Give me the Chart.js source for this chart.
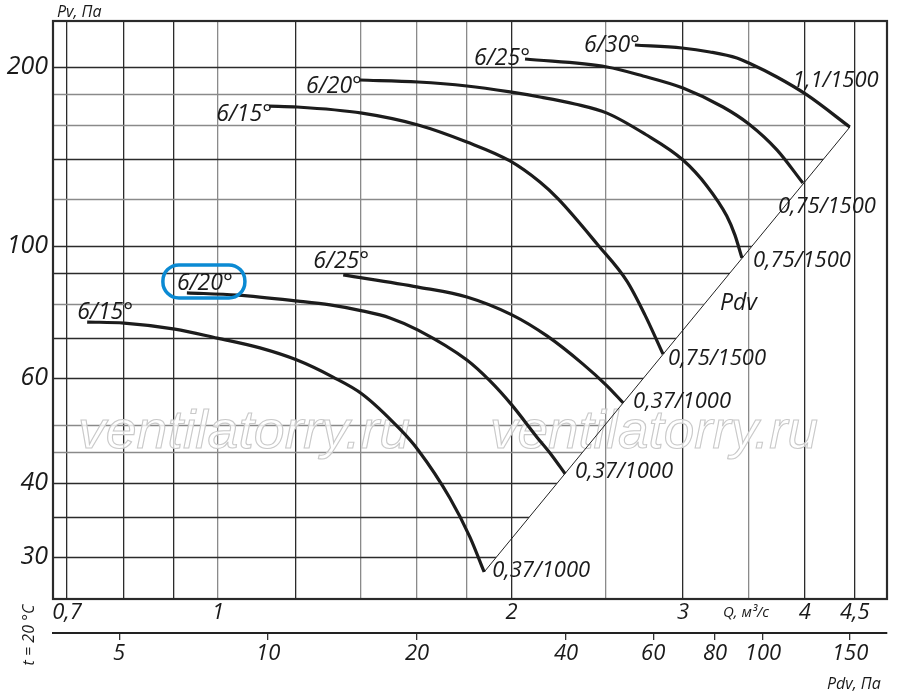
<!DOCTYPE html>
<html>
<head>
<meta charset="utf-8">
<script src="https://cdn.jsdelivr.net/npm/chart.js@4.4.1/dist/chart.umd.min.js"></script>
<style>
  html, body { margin: 0; padding: 0; background: #fff; }
  #wrap { width: 900px; height: 695px; }
</style>
</head>
<body>
<div id="wrap"><canvas id="chart" width="900" height="695"></canvas></div>
<script>
// axes
const qTicks = [0.7, 0.8, 0.9, 1, 1.2, 1.4, 1.6, 1.8, 2, 2.5, 3, 3.5, 4, 4.5];
const qLabels = [0.7, 1, 2, 3, 4, 4.5];
const pvTicks = [30, 35, 40, 45, 50, 60, 70, 80, 90, 100, 120, 140, 160, 180, 200];
const pvLabels = [30, 40, 60, 100, 200];
const pdvTicks = [5, 10, 20, 40, 60, 80, 100, 150];

// 1000 rpm curves (0,37 kW)
const low15Q = [0.734, 0.801, 0.903, 0.998, 1.104, 1.205, 1.312, 1.405, 1.537, 1.604, 1.729, 1.813, 1.875];
const low15Pv = [74.5, 74.2, 72.5, 70.0, 67.4, 64.3, 60.2, 56.4, 49.2, 45.4, 37.7, 32.4, 28.3];
const low20Q = [0.929, 1.046, 1.208, 1.303, 1.405, 1.501, 1.604, 1.800, 1.901, 2.002, 2.124, 2.201, 2.27];
const low20Pv = [83.4, 82.7, 80.8, 79.6, 77.8, 75.7, 72.2, 64.3, 59.3, 54.0, 47.7, 44.4, 41.4];
const low25Q = [1.344, 1.604, 1.800, 2.002, 2.175, 2.368, 2.506, 2.603];
const low25Pv = [89.4, 85.3, 82.1, 76.6, 70.6, 63.3, 58.2, 54.5];

// 1500 rpm curves
const up15Q = [1.128, 1.205, 1.405, 1.604, 1.800, 1.993, 2.139, 2.233, 2.453, 2.627, 2.741, 2.861];
const up15Pv = [171.9, 171.3, 167.3, 159.8, 149.6, 139.0, 128.1, 120.0, 100.4, 87.3, 76.6, 65.8];
const up20Q = [1.398, 1.604, 1.800, 1.993, 2.139, 2.323, 2.506, 2.741, 2.999, 3.173, 3.326, 3.390, 3.447];
const up20Pv = [190.2, 188.7, 185.8, 181.6, 178.1, 173.3, 167.3, 154.3, 139.5, 126.2, 112.3, 104.4, 95.5];
const up25Q = [2.065, 2.506, 2.729, 2.999, 3.296, 3.504, 3.744, 3.981];
const up25Pv = [206.3, 200.0, 193.2, 184.4, 171.3, 160.4, 145.1, 127.6];
const up30Q = [2.677, 2.992, 3.196, 3.406, 3.504, 3.744, 4.019, 4.448];
const up30Pv = [217.8, 215.3, 212.0, 207.1, 203.1, 192.4, 179.5, 158.5];

// dynamic pressure line through the curve ends
const pdvQ = [1.875, 4.448];
const pdvPv = [28.3, 158.5];

const bladeNames = ['6/15°', '6/20°', '6/25°', '6/15°', '6/20°', '6/25°', '6/30°'];
const motorNames = ['0,37/1000', '0,37/1000', '0,37/1000', '0,75/1500', '0,75/1500', '0,75/1500', '1,1/1500'];

const curveQ = [low15Q, low20Q, low25Q, up15Q, up20Q, up25Q, up30Q];
const curvePv = [low15Pv, low20Pv, low25Pv, up15Pv, up20Pv, up25Pv, up30Pv];

// label placement relative to curve start / end (px)
const nameOffsets = [[-10, -3, 'left'], [-10, -3, 'left'], [-30, -7, 'left'], [3, 15, 'right'], [2, 13, 'right'], [5, 6, 'right'], [5, 7, 'right']];
const motorOffsets = [[8, 5], [10, 4], [10, 5], [5, 11], [11, 9], [-25, 30], [-57, -40]];

const FONT = "'Open Sans', 'Liberation Sans', sans-serif";
const darkLine = '#2b2b2b';
const greyLine = '#8a8a8a';
const qGrey = [1, 1.4, 1.6, 1.8, 2.5, 3.5];
const pvGrey = [180, 160, 120, 80, 50, 45];
const fmt = v => String(v).replace('.', ',');

const datasets = curveQ.map((qs, k) => ({
    data: qs.map((q, i) => ({ x: q, y: curvePv[k][i] })),
    borderColor: '#1c1c1c',
    borderWidth: 3.2,
    pointRadius: 0,
    fill: false,
    cubicInterpolationMode: 'monotone'
}));
datasets.push({
    data: pdvQ.map((q, i) => ({ x: q, y: pdvPv[i] })),
    borderColor: '#222',
    borderWidth: 1,
    pointRadius: 0,
    fill: false
});

const fanPlugin = {
    id: 'fanPlugin',
    beforeDatasetsDraw(chart) {
        const { ctx, chartArea: a, scales } = chart;
        const xs = scales.x, ys = scales.y;
        const px = q => xs.getPixelForValue(q);
        const py = p => ys.getPixelForValue(p);

        // horizontal grid only inside the working field
        ctx.save();
        ctx.beginPath();
        ctx.moveTo(a.left, a.bottom);
        ctx.lineTo(a.left, a.top);
        ctx.lineTo(px(up30Q[0]), a.top);
        up30Q.forEach((q, i) => ctx.lineTo(px(q), py(up30Pv[i])));
        ctx.lineTo(px(pdvQ[0]), py(pdvPv[0]));
        ctx.lineTo(px(pdvQ[0]), a.bottom);
        ctx.closePath();
        ctx.clip();
        ys.ticks.forEach(t => {
            const y = Math.round(py(t.value)) + 0.5;
            ctx.strokeStyle = pvGrey.includes(t.value) ? greyLine : darkLine;
            ctx.lineWidth = 1.3;
            ctx.beginPath();
            ctx.moveTo(a.left, y);
            ctx.lineTo(a.right, y);
            ctx.stroke();
        });
        ctx.restore();

        // watermark
        ctx.save();
        ctx.font = 'italic 54px "Liberation Sans", sans-serif';
        ctx.lineWidth = 1.1;
        ctx.strokeStyle = '#c9c9c9';
        ctx.fillStyle = 'rgba(255,255,255,0.75)';
        [[78, 332], [490, 328]].forEach(([x0, w]) => {
            const mw = ctx.measureText('ventilatorry.ru').width;
            ctx.save();
            ctx.translate(x0, 448);
            ctx.scale(w / mw, 1);
            ctx.fillText('ventilatorry.ru', 0, 0);
            ctx.strokeText('ventilatorry.ru', 0, 0);
            ctx.restore();
        });
        ctx.restore();
    },
    afterDatasetsDraw(chart) {
        const { ctx, chartArea: a, scales } = chart;
        const xs = scales.x, ys = scales.y;
        const px = q => xs.getPixelForValue(q);
        const py = p => ys.getPixelForValue(p);

        // frame
        ctx.save();
        ctx.strokeStyle = '#2a2a2a';
        ctx.lineWidth = 2.2;
        ctx.strokeRect(a.left, a.top, a.right - a.left, a.bottom - a.top);

        ctx.fillStyle = '#1a1a1a';
        ctx.textBaseline = 'alphabetic';

        curveQ.forEach((qs, k) => {
            const sx = px(qs[0]), sy = py(curvePv[k][0]);
            const ex = px(qs[qs.length - 1]), ey = py(curvePv[k][qs.length - 1]);
            const [nx, ny, al] = nameOffsets[k];
            ctx.font = 'italic 23px ' + FONT;
            ctx.textAlign = al;
            ctx.fillText(bladeNames[k], sx + nx, sy + ny);
            const [mx, my] = motorOffsets[k];
            ctx.font = 'italic 22px ' + FONT;
            ctx.textAlign = 'left';
            ctx.fillText(motorNames[k], ex + mx, ey + my);
            if (k === 1) {
                ctx.save();
                ctx.strokeStyle = '#0b8ad3';
                ctx.lineWidth = 3.5;
                ctx.beginPath();
                ctx.roundRect(sx - 24, sy - 28, 82, 33, 16);
                ctx.stroke();
                ctx.restore();
            }
        });

        ctx.font = 'italic 23px ' + FONT;
        ctx.textAlign = 'left';
        ctx.fillText('Pdv', 720, 310);

        ctx.font = 'italic 16px ' + FONT;
        ctx.fillText('Pv, Па', 57, 17);
        ctx.font = 'italic 15px ' + FONT;
        ctx.fillText('Q, м³/с', 723, 617);
        ctx.font = 'italic 16px ' + FONT;
        ctx.fillText('Pdv, Па', 827, 689);

        ctx.save();
        ctx.translate(34, 635);
        ctx.rotate(-Math.PI / 2);
        ctx.textAlign = 'center';
        ctx.font = 'italic 16px ' + FONT;
        ctx.fillText('t = 20 °C', 0, 0);
        ctx.restore();
        ctx.restore();
    }
};

const tickFont = size => ({ family: FONT, size: size, style: 'italic' });

new Chart(document.getElementById('chart'), {
    type: 'line',
    data: { datasets: datasets },
    options: {
        responsive: false,
        animation: false,
        layout: { padding: { top: 21, right: 13, left: 0, bottom: 0 } },
        plugins: { legend: { display: false }, tooltip: { enabled: false } },
        scales: {
            x: {
                type: 'logarithmic',
                position: 'bottom',
                weight: 1,
                min: 0.6771,
                max: 4.856,
                bounds: 'data',
                afterBuildTicks: s => { s.ticks = qTicks.map(v => ({ value: v })); },
                afterFit: s => { s.height = 34; },
                grid: {
                    color: c => (c.tick && qGrey.includes(c.tick.value)) ? greyLine : darkLine,
                    lineWidth: 1.3,
                    drawTicks: false
                },
                border: { display: false },
                ticks: {
                    autoSkip: false,
                    maxRotation: 0,
                    padding: 1,
                    color: '#1a1a1a',
                    font: tickFont(22),
                    callback: v => qLabels.includes(v) ? fmt(v) : ''
                }
            },
            x2: {
                type: 'logarithmic',
                position: 'bottom',
                weight: 2,
                min: 3.675,
                max: 178.1,
                bounds: 'data',
                afterBuildTicks: s => { s.ticks = pdvTicks.map(v => ({ value: v })); },
                afterFit: s => { s.height = 62; },
                grid: { drawOnChartArea: false, drawTicks: true, tickLength: 7, color: '#333', lineWidth: 1.3 },
                border: { display: true, color: '#222', width: 2 },
                ticks: {
                    autoSkip: false,
                    maxRotation: 0,
                    padding: 1,
                    color: '#1a1a1a',
                    font: tickFont(22),
                    callback: v => pdvTicks.includes(v) ? fmt(v) : ''
                }
            },
            y: {
                type: 'logarithmic',
                min: 25.49,
                max: 239.0,
                bounds: 'data',
                afterBuildTicks: s => { s.ticks = pvTicks.map(v => ({ value: v })); },
                afterFit: s => { s.width = 53; },
                grid: { display: false, drawTicks: false },
                border: { display: false },
                ticks: {
                    autoSkip: false,
                    padding: 5,
                    color: '#1a1a1a',
                    font: tickFont(25),
                    callback: v => pvLabels.includes(v) ? String(v) : ''
                }
            }
        }
    },
    plugins: [fanPlugin]
});
</script>
</body>
</html>
